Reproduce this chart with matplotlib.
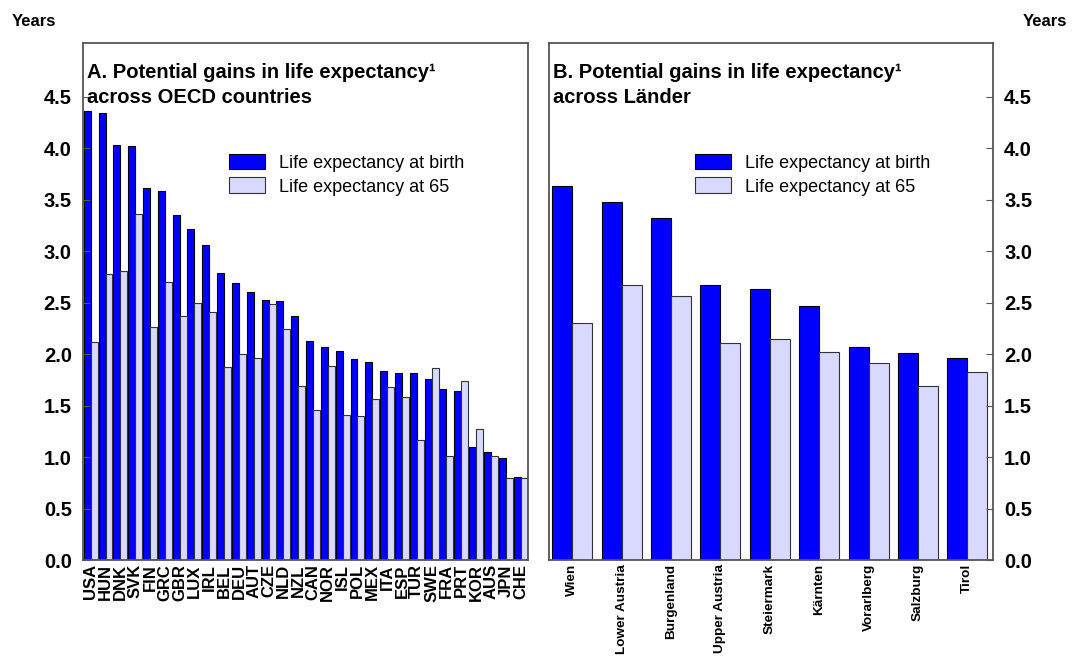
import numpy as np
import matplotlib
matplotlib.use('Agg')
import matplotlib.pyplot as plt

plt.rcParams['font.family'] = ['Liberation Sans', 'DejaVu Sans']

# Panel A data: OECD countries
countries = ['USA', 'HUN', 'DNK', 'SVK', 'FIN', 'GRC', 'GBR', 'LUX', 'IRL', 'BEL',
             'DEU', 'AUT', 'CZE', 'NLD', 'NZL', 'CAN', 'NOR', 'ISL', 'POL', 'MEX',
             'ITA', 'ESP', 'TUR', 'SWE', 'FRA', 'PRT', 'KOR', 'AUS', 'JPN', 'CHE']
oecd_birth = [4.36, 4.34, 4.03, 4.02, 3.61, 3.58, 3.35, 3.21, 3.06, 2.79,
              2.69, 2.60, 2.52, 2.51, 2.37, 2.13, 2.07, 2.03, 1.95, 1.92,
              1.84, 1.82, 1.82, 1.76, 1.66, 1.64, 1.10, 1.05, 0.99, 0.81]
oecd_65 = [2.12, 2.78, 2.81, 3.36, 2.26, 2.70, 2.37, 2.50, 2.41, 1.87,
           2.00, 1.96, 2.49, 2.24, 1.69, 1.46, 1.88, 1.41, 1.40, 1.56,
           1.68, 1.58, 1.17, 1.86, 1.01, 1.74, 1.27, 1.01, 0.80, 0.80]

# Panel B data: Austrian Länder
laender = ['Wien', 'Lower Austria', 'Burgenland', 'Upper Austria', 'Steiermark',
           'Kärnten', 'Vorarlberg', 'Salzburg', 'Tirol']
land_birth = [3.63, 3.48, 3.32, 2.67, 2.63, 2.47, 2.07, 2.01, 1.96]
land_65 = [2.30, 2.67, 2.56, 2.11, 2.15, 2.02, 1.91, 1.69, 1.83]

yticks = [0.0, 0.5, 1.0, 1.5, 2.0, 2.5, 3.0, 3.5, 4.0, 4.5]

blue = '#0000FF'
light = '#D9D9FF'
spine_col = '#555555'

fig = plt.figure(figsize=(10.72, 6.57), dpi=100)
axA = fig.add_axes([0.0774, 0.1476, 0.4151, 0.787])
axB = fig.add_axes([0.5121, 0.1476, 0.4142, 0.787])


def draw_panel(ax, labels, birth, at65, width, xlim, title, label_size):
    x = np.arange(len(labels))
    ax.bar(x - width / 2, birth, width, color=blue, edgecolor='black', linewidth=0.8,
           label='Life expectancy at birth')
    ax.bar(x + width / 2, at65, width, color=light, edgecolor='#333333', linewidth=0.8,
           label='Life expectancy at 65')
    ax.set_xlim(*xlim)
    ax.set_ylim(0, 5.02)
    ax.set_yticks(yticks)
    ax.set_yticklabels(['%.1f' % v for v in yticks])
    ax.set_xticks(x)
    ax.set_xticklabels(labels, rotation=90, fontsize=label_size, fontweight='bold',
                       va='top', ha='center')
    ax.tick_params(axis='x', length=0, pad=3)
    ax.tick_params(axis='y', direction='in', length=5, labelsize=14.5, pad=8,
                   color=spine_col)
    for s in ax.spines.values():
        s.set_color(spine_col)
        s.set_linewidth(1.3)
    ax.text(0.01, 0.961, title, transform=ax.transAxes, fontsize=14.5,
            fontweight='bold', va='top', ha='left', linespacing=1.38)
    ax.legend(loc='upper left', bbox_to_anchor=(0.328, 0.786), frameon=False,
              fontsize=13, handlelength=2.0, handleheight=0.97, borderpad=0,
              borderaxespad=0, labelspacing=0.32, handletextpad=0.8)


draw_panel(axA, countries, oecd_birth, oecd_65, 0.47, (-0.52, 29.5),
           'A. Potential gains in life expectancy\u00b9\nacross OECD countries', 12)
draw_panel(axB, laender, land_birth, land_65, 0.405, (-0.47, 8.52),
           'B. Potential gains in life expectancy\u00b9\nacross L\u00e4nder', 9.7)

axB.yaxis.tick_right()
axB.tick_params(axis='y', left=False, right=True, labelleft=False, labelright=True)

for ax in (axA, axB):
    for t in ax.yaxis.get_major_ticks():
        t.label1.set_fontweight('bold')
        t.label2.set_fontweight('bold')

fig.text(0.011, 0.978, 'Years', fontsize=12, fontweight='bold', ha='left', va='top')
fig.text(0.995, 0.978, 'Years', fontsize=12, fontweight='bold', ha='right', va='top')

fig.savefig('out.png', dpi=100)
